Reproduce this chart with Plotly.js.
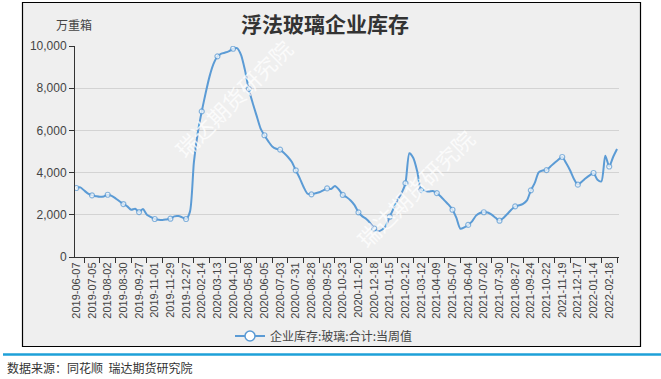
<!DOCTYPE html>
<html>
<head>
<meta charset="utf-8">
<script src="https://cdn.plot.ly/plotly-3.0.1.min.js"></script>
<style>html,body{margin:0;padding:0;background:#fff;}#chart{width:661px;height:379px;}</style>
</head>
<body>
<div id="chart"></div>
<script>
// Weekly categories (holiday weeks absent in source)
const weeks = [
"2019-06-07","2019-06-14","2019-06-21","2019-06-28","2019-07-05","2019-07-12","2019-07-19","2019-07-26",
"2019-08-02","2019-08-09","2019-08-16","2019-08-23","2019-08-30","2019-09-06","2019-09-13","2019-09-20",
"2019-09-27","2019-10-11","2019-10-18","2019-10-25","2019-11-01","2019-11-08","2019-11-15","2019-11-22",
"2019-11-29","2019-12-06","2019-12-13","2019-12-20","2019-12-27","2020-01-03","2020-01-10","2020-01-17",
"2020-02-14","2020-02-21","2020-02-28","2020-03-06","2020-03-13","2020-03-20","2020-03-27","2020-04-03",
"2020-04-10","2020-04-17","2020-04-24","2020-05-01","2020-05-08","2020-05-15","2020-05-22","2020-05-29",
"2020-06-05","2020-06-12","2020-06-19","2020-06-26","2020-07-03","2020-07-10","2020-07-17","2020-07-24",
"2020-07-31","2020-08-07","2020-08-14","2020-08-21","2020-08-28","2020-09-04","2020-09-11","2020-09-18",
"2020-09-25","2020-10-02","2020-10-09","2020-10-16","2020-10-23","2020-10-30","2020-11-06","2020-11-13",
"2020-11-20","2020-11-27","2020-12-04","2020-12-11","2020-12-18","2020-12-25","2021-01-01","2021-01-08",
"2021-01-15","2021-01-22","2021-01-29","2021-02-05","2021-02-12","2021-02-19","2021-02-26","2021-03-05",
"2021-03-12","2021-03-19","2021-03-26","2021-04-02","2021-04-09","2021-04-16","2021-04-23","2021-04-30",
"2021-05-07","2021-05-14","2021-05-21","2021-05-28","2021-06-04","2021-06-11","2021-06-18","2021-06-25",
"2021-07-02","2021-07-09","2021-07-16","2021-07-23","2021-07-30","2021-08-06","2021-08-13","2021-08-20",
"2021-08-27","2021-09-03","2021-09-10","2021-09-17","2021-09-24","2021-10-01","2021-10-08","2021-10-15",
"2021-10-22","2021-10-29","2021-11-05","2021-11-12","2021-11-19","2021-11-26","2021-12-03","2021-12-10",
"2021-12-17","2021-12-24","2021-12-31","2022-01-07","2022-01-14","2022-01-21","2022-01-28","2022-02-11",
"2022-02-18","2022-02-25","2022-03-04"
];

// 企业库存:玻璃:合计:当周值 (万重箱)
const inventory = [
3270,3300,3150,3000,2920,2880,2850,2870,
2950,2900,2780,2640,2510,2400,2240,2290,
2130,2270,2005,1895,1800,1760,1750,1780,
1815,1925,1940,1880,1800,2150,4500,5900,
6900,7770,8560,9150,9510,9640,9690,9760,
9870,9900,9590,8880,7960,7300,6700,6100,
5770,5480,5240,5130,5090,4930,4740,4500,
4110,3740,3320,3000,2970,3020,3070,3160,
3250,3220,3370,3200,2940,2830,2680,2460,
2115,1925,1800,1610,1350,1215,1290,1480,
1910,2320,2720,3030,3500,4920,4690,4060,
3170,3130,3100,3130,3030,2870,2670,2480,
2240,1850,1340,1400,1520,1690,1960,2085,
2120,2110,2005,1860,1720,1850,2040,2240,
2400,2450,2520,2680,3160,3510,4010,4100,
4120,4290,4450,4610,4740,4450,4110,3700,
3430,3570,3730,3870,3980,3660,3580,4800,
4290,4740,5120
];

// Axis tick labels (every 4th week shown)
const tickLabels = [
"2019-06-07","2019-07-05","2019-08-02","2019-08-30","2019-09-27","2019-11-01","2019-11-29","2019-12-27",
"2020-02-14","2020-03-13","2020-04-10","2020-05-08","2020-06-05","2020-07-03","2020-07-31","2020-08-28",
"2020-09-25","2020-10-23","2020-11-20","2020-12-18","2021-01-15","2021-02-12","2021-03-12","2021-04-09",
"2021-05-07","2021-06-04","2021-07-02","2021-07-30","2021-08-27","2021-09-24","2021-10-22","2021-11-19",
"2021-12-17","2022-01-14","2022-02-18"
];

const seriesName = "企业库存:玻璃:合计:当周值";
const titleText = "浮法玻璃企业库存";
const unitText = "万重箱";
const sourceText = "数据来源：同花顺  瑞达期货研究院";
const watermark = "瑞达期货研究院";

const idx = weeks.map((_, i) => i);
const tickIdx = tickLabels.map(d => weeks.indexOf(d));
const isLabel = new Set(tickIdx);
const mSize = idx.map(i => isLabel.has(i) ? 5 : 0);
const mLine = idx.map(i => isLabel.has(i) ? 1.2 : 0);

const W = 661, H = 379;
const M = {l: 75, r: 42, t: 46, b: 122};
const PW = W - M.l - M.r, PH = H - M.t - M.b;
const px = v => (v - M.l) / PW;
const py = v => (H - M.b - v) / PH;

const lineColor = "#5b9bd5";
const FONT = "Liberation Sans, Noto Sans CJK SC, sans-serif";
const CJK = "Noto Sans CJK SC, sans-serif";

const trace = {
  x: idx, y: inventory, text: weeks, hovertemplate: "%{text}: %{y}<extra></extra>",
  type: "scatter", mode: "lines+markers", name: seriesName, showlegend: false,
  line: {color: lineColor, width: 2, shape: "spline", smoothing: 0.7},
  marker: {symbol: "circle", size: mSize, color: "#ffffff", line: {color: lineColor, width: mLine}}
};

// legend-only entry (line with hollow circle)
const legendEntry = {
  x: [null], y: [null], type: "scatter", mode: "lines+markers", name: seriesName, showlegend: true,
  line: {color: lineColor, width: 2},
  marker: {symbol: "circle", size: 10, color: "#ffffff", line: {color: lineColor, width: 1.5}}
};

const layout = {
  width: W, height: H,
  margin: M,
  paper_bgcolor: "#ffffff",
  plot_bgcolor: "rgba(0,0,0,0)",
  font: {family: FONT, size: 11, color: "#444"},
  title: {text: "<b>" + titleText + "</b>", x: 325 / W, xanchor: "center", xref: "container",
          y: 1 - 25 / H, yref: "container", yanchor: "middle",
          font: {family: CJK, size: 21, color: "#333"}},
  showlegend: true,
  legend: {orientation: "h", x: px(324), xanchor: "center", y: py(336), yanchor: "middle",
           bgcolor: "rgba(0,0,0,0)", font: {family: CJK, size: 12, color: "#444"}},
  xaxis: {
    range: [-0.35, weeks.length - 0.5], type: "linear",
    tickmode: "array", tickvals: tickIdx, ticktext: tickLabels, tickangle: -90,
    ticks: "", showgrid: false, zeroline: false,
    showline: true, linecolor: "#333", linewidth: 1,
    tickfont: {family: FONT, size: 11, color: "#444"},
    minor: {ticks: "outside", tick0: 2, dtick: 4, ticklen: 5, tickcolor: "#333", tickwidth: 1, showgrid: false}
  },
  yaxis: {
    range: [0, 10000], dtick: 2000, tickformat: ",d",
    showgrid: true, gridcolor: "#d3d3d3", gridwidth: 1, zeroline: false,
    showline: true, linecolor: "#333", linewidth: 1,
    ticks: "outside", ticklen: 5, tickcolor: "#333",
    tickfont: {family: FONT, size: 12, color: "#444"}
  },
  shapes: [
    {type: "rect", xref: "paper", yref: "paper", layer: "below",
     x0: px(22.5), x1: px(640.5), y0: py(346.5), y1: py(2.5),
     fillcolor: "#efefef", line: {color: "#000", width: 1.2}},
    {type: "line", xref: "paper", yref: "paper", layer: "above",
     x0: px(3), x1: px(661), y0: py(354.5), y1: py(354.5),
     line: {color: "#1ea0d8", width: 2.5}}
  ],
  annotations: [
    {text: unitText, xref: "paper", yref: "paper", x: px(74), y: py(24), xanchor: "center", yanchor: "middle",
     showarrow: false, font: {family: CJK, size: 12, color: "#444"}},
    {text: watermark, xref: "paper", yref: "paper", x: px(233), y: py(98), xanchor: "center", yanchor: "middle",
     showarrow: false, textangle: -45, font: {family: CJK, size: 22, color: "rgba(255,255,255,0.75)"}},
    {text: watermark, xref: "paper", yref: "paper", x: px(415), y: py(188), xanchor: "center", yanchor: "middle",
     showarrow: false, textangle: -45, font: {family: CJK, size: 22, color: "rgba(255,255,255,0.75)"}},
    {text: sourceText, xref: "paper", yref: "paper", x: px(5), y: py(367), xanchor: "left", yanchor: "middle",
     showarrow: false, font: {family: CJK, size: 12, color: "#333"}}
  ]
};

Plotly.newPlot("chart", [trace, legendEntry], layout, {displayModeBar: false, staticPlot: true});
</script>
</body>
</html>
